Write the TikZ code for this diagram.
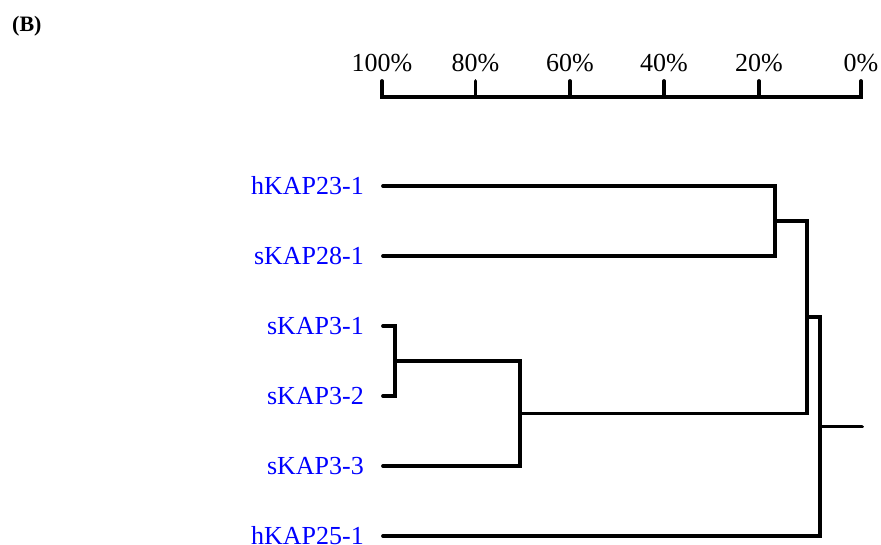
\documentclass[tikz,border=0pt]{standalone}
\usepackage{fontspec}
\setmainfont{Liberation Serif}
\begin{document}
\begin{tikzpicture}[x=1pt,y=-1pt,
  tree/.style={line width=3.8pt, line join=miter, line cap=round},
  leaf/.style={text=blue, font=\fontsize{26}{26}\selectfont, anchor=east, inner sep=0pt},
  pct/.style={font=\fontsize{26}{26}\selectfont, anchor=base, inner sep=0pt},
  panel/.style={font=\bfseries\fontsize{22}{22}\selectfont, anchor=west, inner sep=0pt}]
\useasboundingbox (0,0) rectangle (881,544);
\node[panel] (pb) at (12,26.5) {(B)};
% scale
\foreach \i/\x/\t in {0/382/100,1/475.5/80,2/570/60,3/664/40,4/759/20,5/861/0}{
  \coordinate (A\i) at (\x,81);
  \coordinate (B\i) at (\x,97);
  \node[pct] (P\i) at (\x,71) {\t\%};
}
\draw[tree] (A0) -- (B0) -- (B5) -- (A5);
\foreach \i in {1,2,3,4}{\draw[tree] (A\i) -- (B\i);}
% leaves
\foreach \i/\y/\n in {1/186/hKAP23-1,2/256/sKAP28-1,3/326/sKAP3-1,4/396/sKAP3-2,5/466/sKAP3-3,6/536/hKAP25-1}{
  \coordinate (L\i) at (383,\y);
  \node[leaf] (N\i) at (364,\y) {\n};
}
\coordinate (J1) at (775,221);
\coordinate (J2) at (395,361);
\coordinate (J3) at (520,413.5);
\coordinate (J4) at (807,317);
\coordinate (J5) at (820,426.5);
\coordinate (R) at (862,426.5);
\draw[tree] (L1) -| (J1) |- (L2);
\draw[tree] (L3) -| (J2) |- (L4);
\draw[tree] (J2) -| (J3) |- (L5);
\draw[tree] (J1) -| (J4) |- (J3);
\draw[tree] (J4) -| (J5) |- (L6);
\draw[tree] (J5) -- (R);
\end{tikzpicture}
\end{document}
